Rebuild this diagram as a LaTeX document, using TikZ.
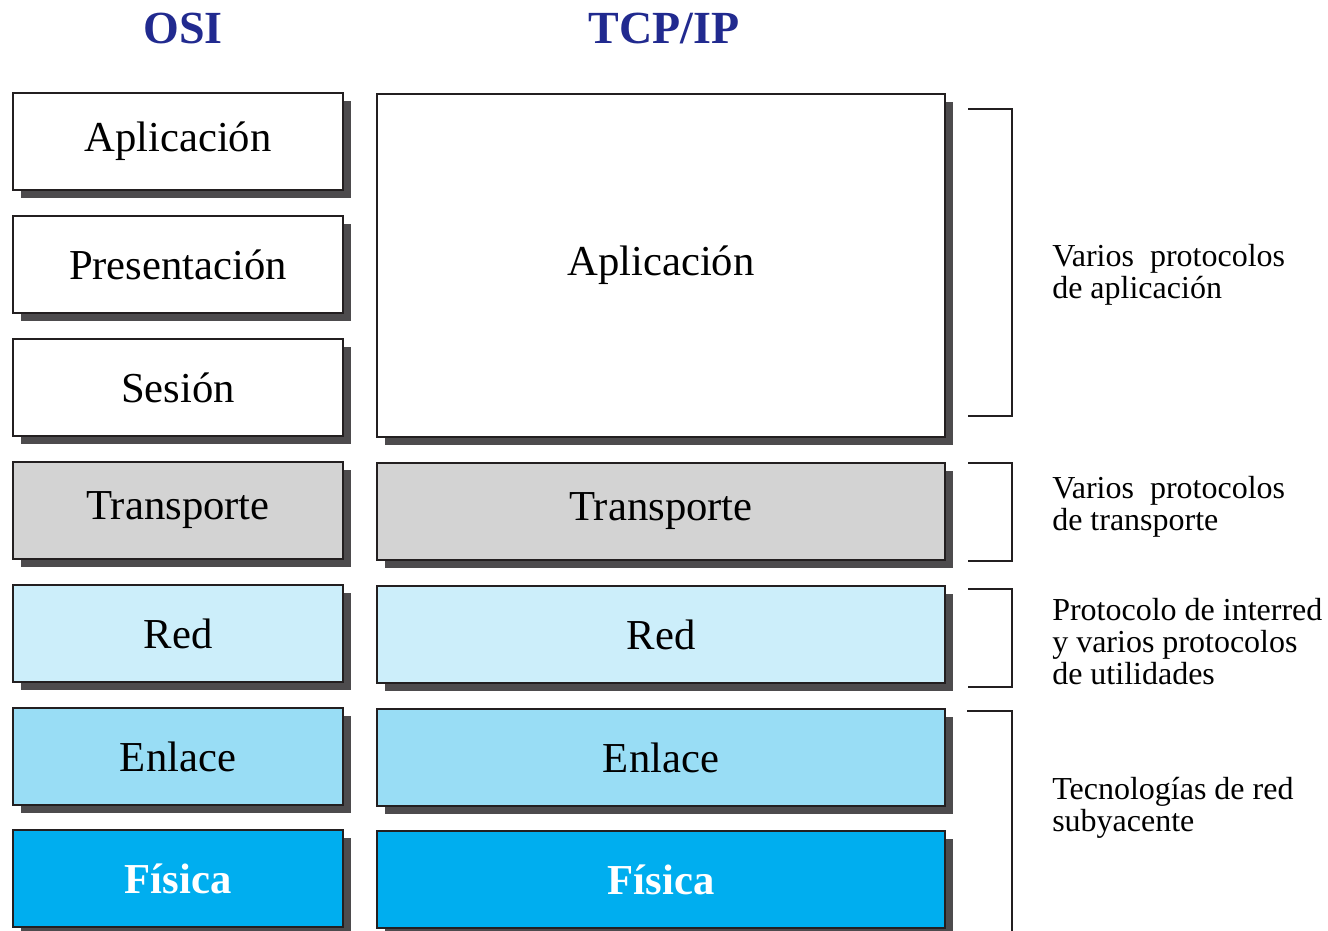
\documentclass[tikz,border=0pt]{standalone}
\usepackage{fontspec}
\setmainfont{Liberation Serif}
\usetikzlibrary{shadows}
\definecolor{shadowc}{RGB}{77,75,77}
\definecolor{edgec}{RGB}{35,31,32}
\definecolor{titlec}{RGB}{33,42,143}
\definecolor{transc}{RGB}{211,211,211}
\definecolor{redc}{RGB}{204,238,250}
\definecolor{enlc}{RGB}{153,221,245}
\definecolor{fisc}{RGB}{0,174,239}
\begin{document}
\begin{tikzpicture}[x=0.75pt,y=-0.75pt,
  layer/.style={draw=edgec, line width=2pt, fill=white,
    drop shadow={shadow xshift=6pt, shadow yshift=-6pt, fill=shadowc, opacity=1},
    font=\fontsize{32}{38}\selectfont, inner sep=0pt},
  osi/.style={layer, minimum width=247.5pt, minimum height=72.75pt},
  tcp/.style={layer, minimum width=426pt, minimum height=72.75pt},
  trans/.style={fill=transc},
  redl/.style={fill=redc},
  enl/.style={fill=enlc},
  fis/.style={fill=fisc, text=white, font=\fontsize{32}{38}\selectfont\bfseries},
  title/.style={text=titlec, font=\fontsize{34.5}{40}\selectfont\bfseries},
  note/.style={anchor=west, align=left, font=\fontsize{24}{24}\selectfont, inner sep=0pt},
  bracket/.style={draw=edgec, line width=1.5pt}
]
\useasboundingbox (0,0) rectangle (1328,931);

\node[title] (tosi) at (183,28) {OSI};
\node[title] (ttcp) at (664,28) {TCP/IP};

% OSI column
\node[osi] (oapl) at (178,141.5) {Aplicación};
\node[osi] (opre) at (178,264.5) {Presentación};
\node[osi] (oses) at (178,387.5) {Sesión};
\node[osi,trans] (otra) at (178,510.5) {Transporte};
\node[osi,redl] (ored) at (178,633.5) {Red};
\node[osi,enl] (oenl) at (178,756.5) {Enlace};
\node[osi,fis] (ofis) at (178,878.5) {Física};

% TCP/IP column
\node[tcp, minimum height=257.25pt] (tapl) at (661,265.5) {Aplicación};
\node[tcp,trans] (ttra) at (661,511.5) {Transporte};
\node[tcp,redl] (tred) at (661,634.5) {Red};
\node[tcp,enl] (tenl) at (661,757.5) {Enlace};
\node[tcp,fis] (tfis) at (661,879.5) {Física};

% brackets
\draw[bracket] (968,109) -- (1012,109) -- (1012,416) -- (968,416);
\draw[bracket] (968,463) -- (1012,463) -- (1012,561) -- (968,561);
\draw[bracket] (968,589) -- (1012,589) -- (1012,687) -- (968,687);
\draw[bracket] (967,711) -- (1012,711) -- (1012,935);

% notes
\node[note] (n1) at (1052,275) {Varios\ \ protocolos\\de aplicación};
\node[note] (n2) at (1052,507) {Varios\ \ protocolos\\de transporte};
\node[note] (n3) at (1052,642) {Protocolo de interred\\y varios protocolos\\de utilidades};
\node[note] (n4) at (1052,808) {Tecnologías de red\\subyacente};
\end{tikzpicture}
\end{document}
